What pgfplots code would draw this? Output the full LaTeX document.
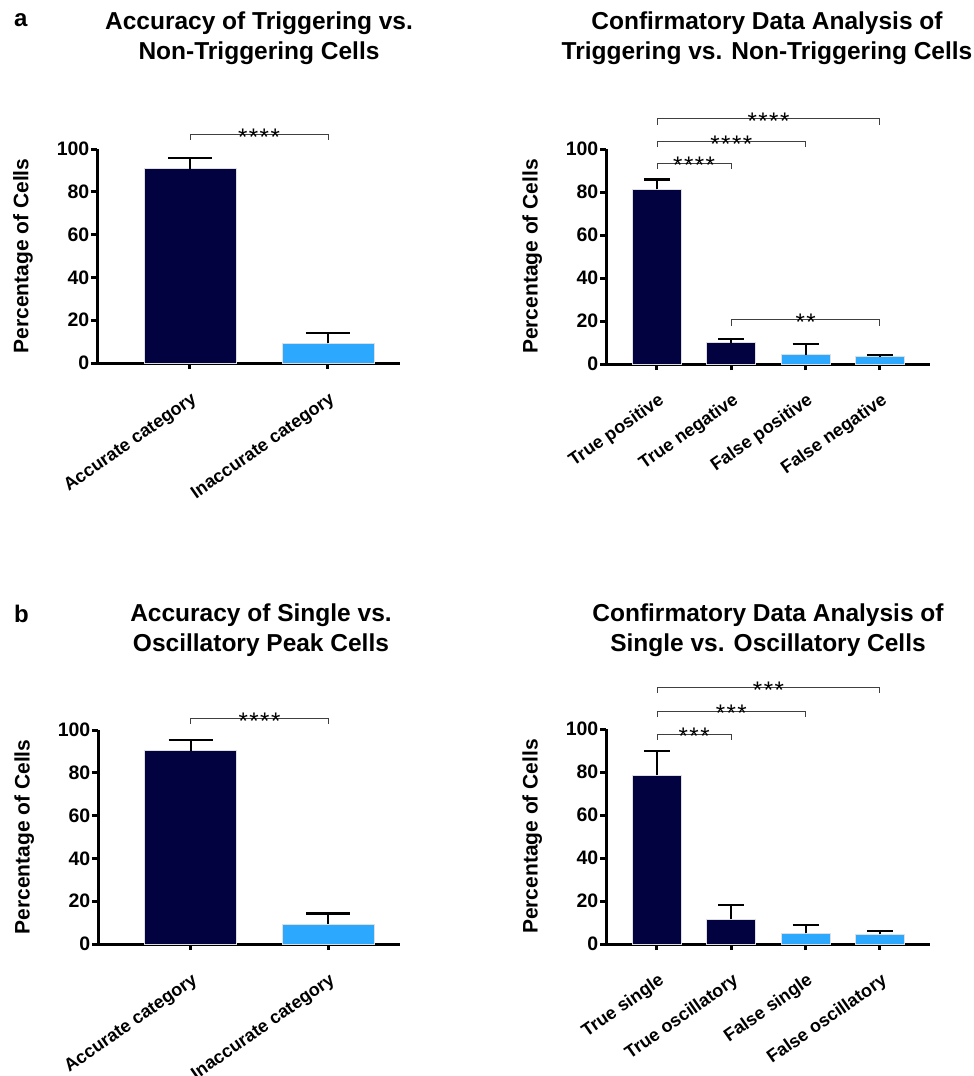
\documentclass[border=0pt]{standalone}
\usepackage{fontspec}
\setmainfont{Liberation Sans}
\usepackage{pgfplots}
\pgfplotsset{compat=1.18}
\definecolor{navy}{RGB}{2,2,64}
\definecolor{skyb}{RGB}{44,168,255}
\newcommand{\tfont}{\bfseries\fontsize{24.5}{30}\selectfont}
\newcommand{\bracket}[4]{%
  \draw[line width=0.9pt, black!75] ([yshift=-6pt]axis cs:#1,#3) -- (axis cs:#1,#3) -- (axis cs:#2,#3) -- ([yshift=-6pt]axis cs:#2,#3);
  \node[font=\fontsize{24}{24}\selectfont, anchor=base, inner sep=0pt, yshift=-11pt] at (axis cs:{(#1+#2)/2},#3) {#4};}
\pgfplotsset{
  gp/.style={
    scale only axis, anchor=south west, clip=false,
    axis x line*=bottom, axis y line*=left,
    axis line style={line width=3pt, -},
    xtick style={draw=black, line width=3pt},
    ytick style={draw=black, line width=3pt},
    major tick length=6pt, tick align=outside,
    ymin=0, ymax=100, ytick={0,20,40,60,80,100},
    /pgf/bar shift=0pt,
    /pgf/number format/assume math mode=true,
    yticklabel style={font=\bfseries\fontsize{19.5}{19.5}\selectfont, inner sep=1.5pt},
    xticklabel style={font=\bfseries\fontsize{18}{18}\selectfont, rotate=35, anchor=north east, xshift=-9pt, yshift=-15pt},
    ylabel={Percentage of Cells},
    ylabel style={font=\bfseries\fontsize{21}{21}\selectfont, anchor=center},
    error bars/y dir=plus, error bars/y explicit,
    error bars/error bar style={line width=2.2pt, black},
  },
  two/.style={gp, width=303pt, height=214pt, xmin=-0.674, xmax=1.522,
    xtick={0,1}, /pgf/bar width=92pt,
    xticklabels={Accurate category, Inaccurate category},
    ylabel style={at={(axis description cs:-0.244,0.5)}},
    error bars/error mark options={rotate=90, mark size=22pt, line width=2.2pt, black}},
  four/.style={gp, width=324pt, height=215pt, xmin=-0.686, xmax=3.674,
    xtick={0,1,2,3}, /pgf/bar width=49pt,
    ylabel style={at={(axis description cs:-0.228,0.5)}},
    error bars/error mark options={rotate=90, mark size=13pt, line width=2.2pt, black}},
  dk/.style={ybar, fill=navy, draw=gray!25, line width=0.6pt},
  lt/.style={ybar, fill=skyb, draw=gray!25, line width=0.6pt},
}
\begin{document}
\begin{tikzpicture}[x=1pt,y=1pt]
\useasboundingbox (0,0) rectangle (974,-1076);
% ---- a, left
\begin{axis}[two, at={(97pt,-363pt)}]
\addplot[dk] coordinates {(0,90.8) +- (0,5.0)};
\addplot[lt] coordinates {(1,9.2) +- (0,5.0)};
\bracket{0}{1}{107}{*\kern1.5pt*\kern1.5pt*\kern1.5pt*}
\end{axis}
% ---- a, right
\begin{axis}[four, at={(606pt,-364pt)},
  xticklabels={True positive, True negative, False positive, False negative}]
\addplot[dk] coordinates {(0,81.2) +- (0,4.6) (1,9.9) +- (0,1.8)};
\addplot[lt] coordinates {(2,4.3) +- (0,5.1) (3,3.4) +- (0,0.9)};
\bracket{0}{1}{93.5}{*\kern1.5pt*\kern1.5pt*\kern1.5pt*}
\bracket{0}{2}{103.7}{*\kern1.5pt*\kern1.5pt*\kern1.5pt*}
\bracket{0}{3}{114}{*\kern1.5pt*\kern1.5pt*\kern1.5pt*}
\bracket{1}{3}{20.5}{*\kern1.5pt*}
\end{axis}
% ---- b, left
\begin{axis}[two, at={(98pt,-944pt)}, width=302pt]
\addplot[dk] coordinates {(0,90.3) +- (0,4.9)};
\addplot[lt] coordinates {(1,9.4) +- (0,4.9)};
\bracket{0}{1}{105.6}{*\kern1.5pt*\kern1.5pt*\kern1.5pt*}
\end{axis}
% ---- b, right
\begin{axis}[four, at={(606pt,-944pt)},
  xticklabels={True single, True oscillatory, False single, False oscillatory}]
\addplot[dk] coordinates {(0,78.6) +- (0,11.2) (1,11.6) +- (0,6.5)};
\addplot[lt] coordinates {(2,5.0) +- (0,3.8) (3,4.5) +- (0,1.4)};
\bracket{0}{1}{97.7}{*\kern1.5pt*\kern1.5pt*}
\bracket{0}{2}{108.4}{*\kern1.5pt*\kern1.5pt*}
\bracket{0}{3}{119.5}{*\kern1.5pt*\kern1.5pt*}
\end{axis}
% ---- titles and panel letters
\node[font=\bfseries\fontsize{24}{24}\selectfont, anchor=base west, inner sep=0pt] at (14,-27) {a};
\node[font=\bfseries\fontsize{24}{24}\selectfont, anchor=base west, inner sep=0pt] at (14,-622) {b};
\node[font=\tfont, align=center, anchor=north, inner sep=0pt] at (259,-12) {Accuracy of Triggering vs.\\Non-Triggering Cells};
\node[font=\tfont, align=center, anchor=north, inner sep=0pt] at (767,-12) {Confirmatory Data Analysis of\\Triggering vs. Non-Triggering Cells};
\node[font=\tfont, align=center, anchor=north, inner sep=0pt] at (261,-604) {Accuracy of Single vs.\\Oscillatory Peak Cells};
\node[font=\tfont, align=center, anchor=north, inner sep=0pt] at (768,-604) {Confirmatory Data Analysis of\\Single vs. Oscillatory Cells};
\end{tikzpicture}
\end{document}
